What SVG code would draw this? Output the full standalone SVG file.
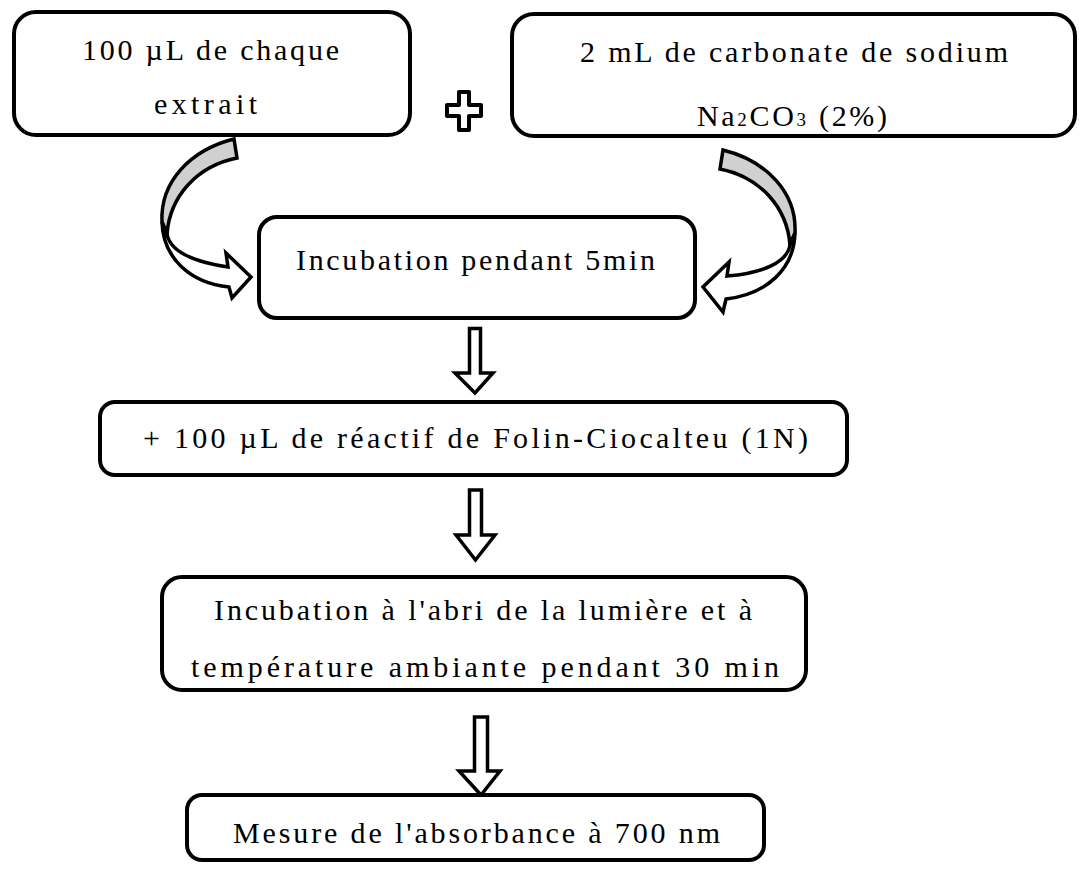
<svg xmlns="http://www.w3.org/2000/svg" width="1079" height="871" viewBox="0 0 1079 871">
<style>
.box{fill:#fff;stroke:#000;stroke-width:4}
.t{font-family:"Liberation Serif","Times New Roman",serif;font-size:30px;fill:#000}
.arr{fill:#fff;stroke:#000;stroke-width:3.5;stroke-linejoin:miter}
.back{fill:#d0d0d0;stroke:#000;stroke-width:3.5;stroke-linejoin:miter}
</style>
<rect width="1079" height="871" fill="#fff"/>
<g id="connectors">
<path class="back" d="M234,139 C190,150 160,182 162,222 L167,234 C170,196 197,166 237,158 Z"/>
<path class="arr" d="M162,222 C163,258 190,283 229,287 L232,298 L251,277 L226,253 L228,267 C195,262 170,252 167,234 Z"/>
<path class="back" d="M723,150 C767,161 797,193 795,233 L790,245 C787,207 760,177 720,169 Z"/>
<path class="arr" d="M795,233 C794,269 767,294 726,299 L723,312 L703,287 L729,262 L727,276 C762,273 787,263 790,245 Z"/>
<path class="arr" d="M469.5,328.5 H480.5 V373 H493 L475,393 L455,373 H469.5 Z"/>
<path class="arr" d="M469.5,490 H481.5 V535 H495 L475.5,560 L456,535 H469.5 Z"/>
<path class="arr" d="M474.5,717 H487.5 V771 H500 L481,795 L459,771 H474.5 Z"/>
</g>
<g id="plus">
<path d="M459,92 H469 V105 H481 V116 H469 V130 H459 V116 H447 V105 H459 Z" fill="#fff" stroke="#000" stroke-width="4" stroke-linejoin="round"/>
</g>
<g id="n1">
<rect class="box" x="14" y="12" width="396" height="123" rx="22"/>
<text class="t" x="82" y="60" textLength="257" lengthAdjust="spacing">100 µL de chaque</text>
<text class="t" x="154" y="114" textLength="103" lengthAdjust="spacing">extrait</text>
</g>
<g id="n2">
<rect class="box" x="512" y="14" width="563" height="122" rx="22"/>
<text class="t" x="580" y="62" textLength="428" lengthAdjust="spacing">2 mL de carbonate de sodium</text>
<text class="t" x="697" y="126" textLength="190" lengthAdjust="spacing">Na<tspan font-size="19">2</tspan>CO<tspan font-size="19">3</tspan> (2%)</text>
</g>
<g id="n3">
<rect class="box" x="259" y="217" width="436" height="101" rx="18"/>
<text class="t" x="296" y="270" textLength="359" lengthAdjust="spacing">Incubation pendant 5min</text>
</g>
<g id="n4">
<rect class="box" x="100" y="402" width="747" height="73" rx="15"/>
<text class="t" x="143" y="448" textLength="665" lengthAdjust="spacing">+ 100 µL de réactif de Folin-Ciocalteu (1N)</text>
</g>
<g id="n5">
<rect class="box" x="162" y="577" width="644" height="113" rx="20"/>
<text class="t" x="214" y="620" textLength="538" lengthAdjust="spacing">Incubation à l'abri de la lumière et à</text>
<text class="t" x="191" y="677" textLength="588" lengthAdjust="spacing">température ambiante pendant 30 min</text>
</g>
<g id="n6">
<rect class="box" x="187" y="795" width="577" height="65" rx="15"/>
<text class="t" x="233" y="843" textLength="487" lengthAdjust="spacing">Mesure de l'absorbance à 700 nm</text>
</g>
</svg>
